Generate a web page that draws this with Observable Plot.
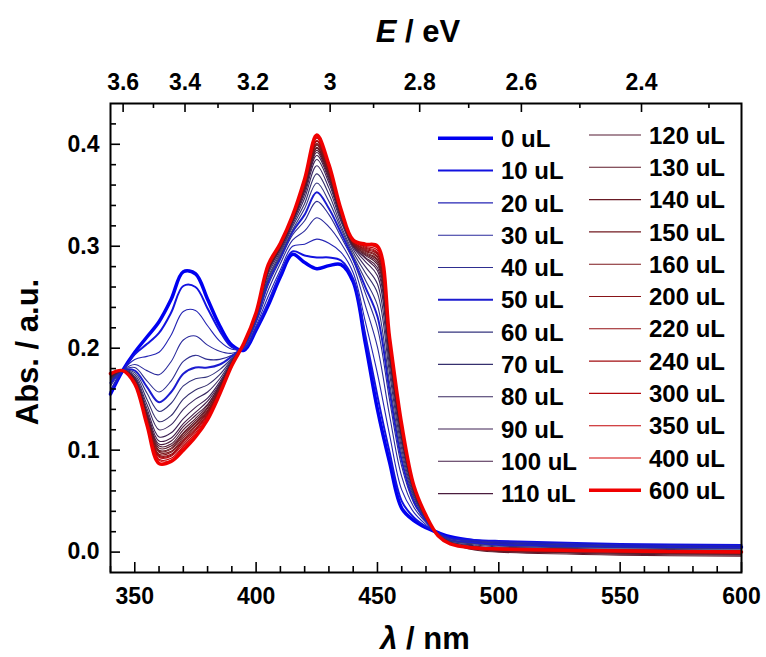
<!DOCTYPE html>
<html><head><meta charset="utf-8">
<script src="https://cdn.jsdelivr.net/npm/d3@7"></script>
<script src="https://cdn.jsdelivr.net/npm/@observablehq/plot@0.6"></script>
<style>
body{margin:0;background:#fff;}
#wrap{position:relative;width:766px;height:657px;}
</style></head><body><div id="wrap"></div>
<script>
// wavelength grid (nm)
const wavelengths = [340,345,350,355,360,365,370,375,380,385,390,395,400,405,410,415,420,425,430,435,440,445,450,455,460,465,470,475,480,490,500,550,600];

// absorbance for each added volume
const s0   = [0.155,0.178,0.196,0.211,0.226,0.248,0.275,0.273,0.248,0.222,0.203,0.198,0.218,0.242,0.270,0.292,0.284,0.278,0.281,0.282,0.265,0.205,0.140,0.088,0.043,0.031,0.024,0.019,0.015,0.011,0.009,0.006,0.005];
const s10  = [0.157,0.178,0.194,0.204,0.215,0.235,0.261,0.260,0.239,0.217,0.201,0.199,0.219,0.245,0.273,0.295,0.291,0.289,0.289,0.286,0.268,0.213,0.153,0.098,0.050,0.034,0.025,0.019,0.014,0.012,0.011,0.008,0.007];
const s20  = [0.159,0.178,0.189,0.192,0.196,0.213,0.236,0.237,0.222,0.207,0.199,0.200,0.222,0.251,0.277,0.300,0.302,0.307,0.303,0.294,0.274,0.226,0.175,0.115,0.061,0.039,0.027,0.018,0.013,0.011,0.010,0.007,0.006];
const s30  = [0.163,0.178,0.184,0.178,0.174,0.187,0.208,0.212,0.203,0.197,0.195,0.201,0.225,0.257,0.283,0.306,0.315,0.328,0.319,0.303,0.281,0.242,0.201,0.134,0.074,0.044,0.029,0.018,0.012,0.010,0.009,0.006,0.005];
const s40  = [0.165,0.178,0.181,0.168,0.157,0.168,0.187,0.193,0.189,0.189,0.193,0.202,0.227,0.262,0.287,0.311,0.325,0.344,0.331,0.309,0.286,0.254,0.220,0.149,0.084,0.048,0.030,0.018,0.012,0.009,0.008,0.005,0.004];
const s50  = [0.166,0.178,0.178,0.162,0.147,0.157,0.175,0.181,0.181,0.184,0.192,0.202,0.228,0.265,0.289,0.314,0.331,0.353,0.337,0.313,0.288,0.260,0.231,0.158,0.090,0.050,0.031,0.017,0.011,0.009,0.007,0.005,0.004];
const s60  = [0.168,0.178,0.176,0.156,0.138,0.146,0.163,0.170,0.172,0.179,0.190,0.203,0.229,0.268,0.291,0.316,0.337,0.362,0.344,0.317,0.291,0.267,0.242,0.166,0.096,0.053,0.032,0.017,0.011,0.008,0.006,0.004,0.003];
const s70  = [0.169,0.178,0.174,0.150,0.128,0.134,0.150,0.159,0.164,0.174,0.189,0.203,0.230,0.270,0.293,0.319,0.342,0.371,0.351,0.320,0.294,0.274,0.254,0.175,0.101,0.055,0.033,0.017,0.010,0.007,0.005,0.003,0.002];
const s80  = [0.170,0.178,0.172,0.145,0.120,0.125,0.140,0.150,0.157,0.170,0.188,0.203,0.231,0.273,0.295,0.321,0.347,0.379,0.357,0.324,0.297,0.280,0.263,0.182,0.106,0.057,0.033,0.017,0.010,0.006,0.004,0.002,0.001];
const s90  = [0.171,0.178,0.171,0.141,0.113,0.117,0.131,0.142,0.151,0.167,0.187,0.204,0.232,0.275,0.297,0.323,0.351,0.385,0.362,0.326,0.299,0.285,0.271,0.188,0.110,0.059,0.034,0.017,0.009,0.005,0.003,0.001,0.000];
const s100 = [0.172,0.178,0.170,0.138,0.109,0.112,0.126,0.137,0.148,0.165,0.186,0.204,0.233,0.276,0.298,0.324,0.354,0.389,0.365,0.328,0.300,0.288,0.276,0.192,0.113,0.060,0.034,0.016,0.009,0.004,0.002,0.000,-0.001];
const s110 = [0.172,0.178,0.169,0.136,0.106,0.109,0.123,0.134,0.145,0.164,0.186,0.204,0.233,0.277,0.299,0.325,0.355,0.392,0.367,0.329,0.301,0.289,0.279,0.194,0.114,0.061,0.034,0.016,0.009,0.003,0.001,-0.001,-0.002];
const s120 = [0.173,0.178,0.169,0.135,0.104,0.106,0.120,0.131,0.144,0.163,0.185,0.204,0.233,0.277,0.299,0.326,0.357,0.394,0.369,0.330,0.301,0.291,0.282,0.196,0.116,0.061,0.035,0.016,0.009,0.003,0.001,-0.002,-0.003];
const s130 = [0.173,0.178,0.168,0.134,0.102,0.104,0.117,0.129,0.142,0.162,0.185,0.204,0.233,0.278,0.300,0.326,0.358,0.396,0.370,0.331,0.302,0.292,0.284,0.198,0.117,0.062,0.035,0.016,0.009,0.002,0.000,-0.003,-0.004];
const s140 = [0.173,0.178,0.168,0.133,0.100,0.102,0.116,0.127,0.141,0.161,0.185,0.204,0.234,0.278,0.300,0.327,0.359,0.397,0.371,0.331,0.302,0.293,0.286,0.199,0.118,0.062,0.035,0.016,0.009,0.003,0.001,-0.001,-0.002];
const s150 = [0.173,0.178,0.167,0.132,0.099,0.101,0.114,0.126,0.139,0.160,0.185,0.204,0.234,0.279,0.300,0.327,0.359,0.399,0.372,0.332,0.303,0.294,0.287,0.200,0.118,0.062,0.035,0.016,0.009,0.004,0.002,0.000,-0.001];
const s160 = [0.174,0.178,0.167,0.131,0.098,0.099,0.112,0.124,0.138,0.160,0.184,0.205,0.234,0.279,0.301,0.327,0.360,0.400,0.373,0.332,0.303,0.295,0.289,0.202,0.119,0.063,0.035,0.016,0.008,0.004,0.002,0.001,0.000];
const s200 = [0.174,0.178,0.167,0.130,0.096,0.098,0.110,0.123,0.137,0.159,0.184,0.205,0.234,0.280,0.301,0.328,0.361,0.401,0.374,0.333,0.304,0.296,0.290,0.203,0.120,0.063,0.035,0.016,0.008,0.005,0.003,0.001,0.000];
const s220 = [0.174,0.178,0.166,0.129,0.095,0.096,0.109,0.121,0.136,0.158,0.184,0.205,0.234,0.280,0.301,0.328,0.362,0.403,0.375,0.333,0.304,0.297,0.292,0.204,0.121,0.063,0.035,0.016,0.008,0.005,0.003,0.002,0.001];
const s240 = [0.174,0.178,0.166,0.129,0.094,0.095,0.108,0.120,0.135,0.158,0.184,0.205,0.234,0.280,0.302,0.328,0.362,0.403,0.376,0.334,0.304,0.298,0.293,0.205,0.121,0.064,0.035,0.016,0.008,0.004,0.003,0.001,0.000];
const s300 = [0.174,0.178,0.166,0.128,0.093,0.094,0.106,0.119,0.134,0.157,0.184,0.205,0.234,0.281,0.302,0.329,0.363,0.404,0.377,0.334,0.305,0.299,0.294,0.206,0.122,0.064,0.036,0.016,0.008,0.005,0.004,0.002,0.001];
const s350 = [0.175,0.178,0.165,0.127,0.091,0.092,0.104,0.117,0.133,0.157,0.184,0.205,0.235,0.281,0.302,0.329,0.364,0.406,0.378,0.335,0.305,0.300,0.296,0.207,0.123,0.064,0.036,0.016,0.008,0.004,0.003,0.001,0.000];
const s400 = [0.175,0.178,0.165,0.126,0.090,0.090,0.103,0.115,0.132,0.156,0.183,0.205,0.235,0.281,0.303,0.329,0.365,0.407,0.379,0.335,0.305,0.301,0.298,0.208,0.124,0.064,0.036,0.016,0.008,0.005,0.003,0.002,0.001];
const s600 = [0.175,0.178,0.165,0.125,0.087,0.089,0.100,0.113,0.130,0.155,0.183,0.205,0.235,0.282,0.303,0.330,0.366,0.409,0.380,0.336,0.306,0.302,0.300,0.210,0.125,0.065,0.036,0.016,0.008,0.004,0.003,0.001,0.000];

const seriesNames = ["0 uL","10 uL","20 uL","30 uL","40 uL","50 uL","60 uL","70 uL","80 uL","90 uL","100 uL","110 uL","120 uL","130 uL","140 uL","150 uL","160 uL","200 uL","220 uL","240 uL","300 uL","350 uL","400 uL","600 uL"];
const seriesValues = [s0,s10,s20,s30,s40,s50,s60,s70,s80,s90,s100,s110,s120,s130,s140,s150,s160,s200,s220,s240,s300,s350,s400,s600];
const seriesColors = ["#0000f0","#1212e0","#2424b4","#2a2a9c","#2e2e90","#1c1cd0","#34347e","#36306e","#3a2860","#3e2254","#441e48","#4a1c3e","#541a32","#5e1a2a","#681a24","#721a20","#7c181c","#881418","#941014","#a20c10","#b2080c","#c20408","#d20204","#f00000"];
const seriesWidths = [3.5,2,1.1,1.1,1.1,2,1.1,1.1,1.1,1.1,1.1,1.1,1.1,1.1,1.1,1.1,1.1,1.1,1.1,1.1,1.1,1.1,1.1,3.5];

// axes
const xTicks = [350,400,450,500,550,600];
const xMinorTicks = [340,360,370,380,390,410,420,430,440,460,470,480,490,510,520,530,540,560,570,580,590];
const yTicks = [0,0.1,0.2,0.3,0.4];
const yTickLabels = ["0.0","0.1","0.2","0.3","0.4"];
const yMinorTicks = [0.02,0.04,0.06,0.08,0.12,0.14,0.16,0.18,0.22,0.24,0.26,0.28,0.32,0.34,0.36,0.38,0.42];
// top energy axis: tick positions expressed in nm along the bottom axis
const topTickPos = [345.2,370.7,398.75,430.5,467.4,509.3,558.8];
const topTickLabels = ["3.6","3.4","3.2","3","2.8","2.6","2.4"];
const topMinorPos = [357.7,384.3,414.0,448.4,487.6,533.4,586.6];

const rows = seriesNames.flatMap((name,k)=>wavelengths.map((w,i)=>({w, a: seriesValues[k][i], k})));

const W = 766, H = 657, mL = 110, mR = 25, mT = 103, mB = 85;
const innerW = W - mL - mR, innerH = H - mT - mB;
const FONT = "'Liberation Sans', Arial, Helvetica, sans-serif";

const marks = [];
seriesNames.forEach((name,k)=>{
  marks.push(Plot.line(rows.filter(r=>r.k===k), {x:"w", y:"a", stroke: seriesColors[k], strokeWidth: seriesWidths[k], curve:"catmull-rom", strokeLinejoin:"round"}));
});
// inward ticks
marks.push(Plot.tickX(xTicks, {x:d=>d, insetTop: innerH-10, stroke:"black", strokeWidth:1.6}));
marks.push(Plot.tickX(xMinorTicks, {x:d=>d, insetTop: innerH-6, stroke:"black", strokeWidth:1.6}));
marks.push(Plot.tickX(topTickPos, {x:d=>d, insetBottom: innerH-9, stroke:"black", strokeWidth:1.6}));
marks.push(Plot.tickX(topMinorPos, {x:d=>d, insetBottom: innerH-5, stroke:"black", strokeWidth:1.6}));
marks.push(Plot.tickY(yTicks, {y:d=>d, insetRight: innerW-10, stroke:"black", strokeWidth:1.6}));
marks.push(Plot.tickY(yMinorTicks, {y:d=>d, insetRight: innerW-6, stroke:"black", strokeWidth:1.6}));
// tick labels
marks.push(Plot.text(xTicks, {x:d=>d, frameAnchor:"bottom", lineAnchor:"top", dy:15, text:d=>String(d), fontSize:23, fontWeight:"bold", fontFamily:FONT, fill:"black"}));
marks.push(Plot.text(topTickPos, {x:d=>d, frameAnchor:"top", lineAnchor:"bottom", dy:-14, text:(d,i)=>topTickLabels[i], fontSize:23, fontWeight:"bold", fontFamily:FONT, fill:"black"}));
marks.push(Plot.text(yTicks, {y:d=>d, frameAnchor:"left", textAnchor:"end", dx:-11, text:(d,i)=>yTickLabels[i], fontSize:23, fontWeight:"bold", fontFamily:FONT, fill:"black"}));
marks.push(Plot.frame({stroke:"black", strokeWidth:2}));

const svg = Plot.plot({
  width: W, height: H, marginLeft: mL, marginRight: mR, marginTop: mT, marginBottom: mB,
  x: {domain:[340,600], axis:null},
  y: {domain:[-0.02,0.44], axis:null},
  style: {background:"white", fontFamily: FONT},
  marks
});
document.getElementById("wrap").appendChild(svg);

const s = d3.select(svg);
const titleStyle = `font-family:${FONT};font-weight:bold;font-size:31px;fill:black`;
// bottom title
const bt = s.append("text").attr("x", 425).attr("y", 649).attr("text-anchor","middle").attr("style", titleStyle);
bt.append("tspan").style("font-style","italic").text("λ");
bt.append("tspan").text(" / nm");
// top title
const tt = s.append("text").attr("x", 418).attr("y", 42).attr("text-anchor","middle").attr("style", titleStyle);
tt.append("tspan").style("font-style","italic").text("E");
tt.append("tspan").text(" / eV");
// left title
s.append("text").attr("transform","translate(38,352) rotate(-90)").attr("text-anchor","middle").attr("style", titleStyle).text("Abs. / a.u.");

// legend
const perCol = 12, rowStep = 32.3;
const cols = [{x0:438, x1:493, tx:501, y0:138.3},{x0:589, x1:641, tx:649, y0:135}];
const lg = s.append("g").attr("text-anchor","start");
seriesNames.forEach((name,k)=>{
  const c = cols[k < perCol ? 0 : 1];
  const r = k < perCol ? k : k - perCol;
  const y = c.y0 + r*rowStep;
  lg.append("line").attr("x1",c.x0).attr("x2",c.x1).attr("y1",y).attr("y2",y)
    .attr("stroke",seriesColors[k]).attr("stroke-width",seriesWidths[k]);
  lg.append("text").attr("x",c.tx).attr("y",y).attr("dy","0.36em").attr("text-anchor","start")
    .attr("style",`font-family:${FONT};font-weight:bold;font-size:24px;fill:black;text-anchor:start`).text(name);
});
</script></body></html>
